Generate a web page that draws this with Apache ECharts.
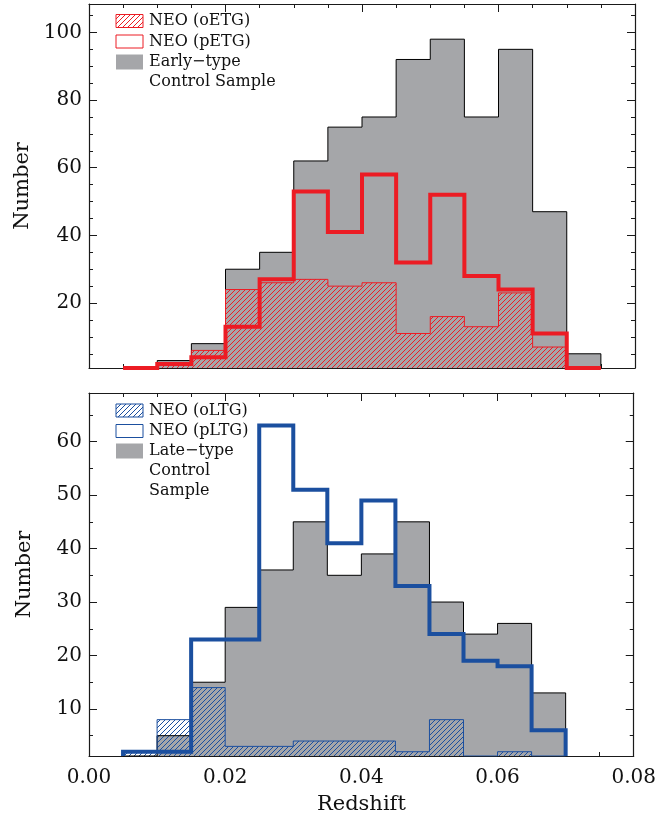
<!DOCTYPE html>
<html>
<head>
<meta charset="utf-8">
<script src="https://cdn.jsdelivr.net/npm/echarts@6/dist/echarts.min.js"></script>
<style>
  html, body { margin: 0; padding: 0; background: #ffffff; }
  #chart { width: 659px; height: 816px; }
</style>
</head>
<body>
<div id="chart"></div>
<script>
// ---- Histogram data: counts per redshift bin (bin width 0.005) ----
const BIN_WIDTH = 0.005;

// Early-type panel: left edges of the bins
const etgBinEdges = [0.005, 0.010, 0.015, 0.020, 0.025, 0.030, 0.035,
                     0.040, 0.045, 0.050, 0.055, 0.060, 0.065, 0.070];
const etgControl  = [0, 3, 8, 30, 35, 62, 72, 75, 92, 98, 75, 95, 47, 5];
const neoOETG     = [0, 2, 6, 24, 26, 27, 25, 26, 11, 16, 13, 23, 7, 0];
const neoPETG     = [0, 2, 4, 13, 27, 53, 41, 58, 32, 52, 28, 24, 11, 0];

// Late-type panel: left edges of the bins
const ltgBinEdges = [0.005, 0.010, 0.015, 0.020, 0.025, 0.030, 0.035,
                     0.040, 0.045, 0.050, 0.055, 0.060, 0.065];
const ltgControl  = [0, 5, 15, 29, 36, 45, 35, 39, 45, 30, 24, 26, 13];
const neoOLTG     = [2, 8, 14, 3, 3, 4, 4, 4, 2, 8, 0, 2, 0];
const neoPLTG     = [2, 2, 23, 23, 63, 51, 41, 49, 33, 24, 19, 18, 6];

// ---- Axis tick values ----
const xMajorStep = 0.02;
const topYMajor = [20, 40, 60, 80, 100];
const topYMinor = [5, 10, 15, 20, 25, 30, 35, 40, 45, 50, 55, 60, 65, 70, 75, 80, 85, 90, 95, 100, 105];
const botYMajor = [10, 20, 30, 40, 50, 60];
const botYMinor = [5, 10, 15, 20, 25, 30, 35, 40, 45, 50, 55, 60, 65];

const TOP_Y_RANGE = [0.8, 108.4];
const BOT_Y_RANGE = [1.2, 69.1];

// ---- Styling ----
const FONT = 'DejaVu Serif';
const FRAME = '#1a1a1a';
const GREY = '#a5a6a9';
const RED = '#ec1c24';
const BLUE = '#1b4f9f';

// Diagonal hatch tile used for the "o" samples
function hatch(color) {
  const s = 5;
  const c = document.createElement('canvas');
  c.width = s; c.height = s;
  const g = c.getContext('2d');
  g.strokeStyle = color;
  g.lineWidth = 1;
  g.beginPath();
  g.moveTo(-1, s + 1); g.lineTo(s + 1, -1);
  g.moveTo(-1, 1); g.lineTo(1, -1);
  g.moveTo(s - 1, s + 1); g.lineTo(s + 1, s - 1);
  g.stroke();
  return { image: c, repeat: 'repeat' };
}
const redHatch = hatch(RED);
const blueHatch = hatch(BLUE);

// Turn bin counts into histogram outline points (step: 'end'),
// holding empty bins on the panel floor so they stay visible.
function histPoints(edges, counts, floor) {
  const f = v => Math.max(v, floor);
  const n = counts.length;
  const right = edges[n - 1] + BIN_WIDTH;
  const pts = [[edges[0], f(0)]];
  for (let i = 0; i < n; i++) pts.push([edges[i], f(counts[i])]);
  pts.push([right, f(counts[n - 1])]);
  pts.push([right, f(0)]);
  return pts;
}

function xAxes(grid, showLabels) {
  const base = {
    type: 'value', gridIndex: grid, min: 0, max: 0.08, interval: xMajorStep,
    axisLine: { show: true, onZero: false, lineStyle: { color: FRAME, width: 1.2 } },
    axisTick: { show: true, inside: true, length: 8, lineStyle: { color: FRAME, width: 1 } },
    minorTick: { show: true, splitNumber: 4, length: 4, lineStyle: { color: FRAME, width: 1 } },
    splitLine: { show: false }, minorSplitLine: { show: false }
  };
  return [
    Object.assign({}, base, {
      position: 'bottom',
      axisLabel: showLabels
        ? { show: true, margin: 12, fontFamily: FONT, fontSize: 20, color: '#111',
            formatter: v => v.toFixed(2) }
        : { show: false },
      name: showLabels ? 'Redshift' : '',
      nameLocation: 'middle', nameGap: 38,
      nameTextStyle: { fontFamily: FONT, fontSize: 21, color: '#111' }
    }),
    Object.assign({}, base, { position: 'top', axisLabel: { show: false } })
  ];
}

function yAxes(grid, range, major, minor) {
  const base = {
    type: 'value', gridIndex: grid, min: range[0], max: range[1],
    splitLine: { show: false }
  };
  const line = { show: true, onZero: false, lineStyle: { color: FRAME, width: 1.2 } };
  const tick = (vals, len) => ({ show: true, inside: true, length: len, customValues: vals,
                                 lineStyle: { color: FRAME, width: 1 } });
  return [
    Object.assign({}, base, {
      position: 'left', axisLine: line, axisTick: tick(major, 8),
      axisLabel: { show: true, customValues: major, margin: 7, fontFamily: FONT, fontSize: 20, color: '#111' },
      name: 'Number', nameLocation: 'middle', nameRotate: 90, nameGap: 54,
      nameTextStyle: { fontFamily: FONT, fontSize: 21, color: '#111' }
    }),
    Object.assign({}, base, {
      position: 'left', axisLine: { show: false, onZero: false }, axisTick: tick(minor, 4),
      axisLabel: { show: false }
    }),
    Object.assign({}, base, {
      position: 'right', axisLine: line, axisTick: tick(major, 8), axisLabel: { show: false }
    }),
    Object.assign({}, base, {
      position: 'right', axisLine: { show: false, onZero: false }, axisTick: tick(minor, 4),
      axisLabel: { show: false }
    })
  ];
}

function histSeries(xi, yi, data, opts) {
  return Object.assign({
    type: 'line', xAxisIndex: xi, yAxisIndex: yi, data: data, step: 'end',
    symbol: 'none', showSymbol: false, silent: true, animation: false,
    emphasis: { disabled: true }
  }, opts);
}

const series = [
  // Early-type panel
  histSeries(0, 0, histPoints(etgBinEdges, etgControl, TOP_Y_RANGE[0]), {
    name: 'Early-type Control Sample',
    lineStyle: { color: '#000', width: 1 },
    areaStyle: { color: GREY, opacity: 1, origin: 'start' }
  }),
  histSeries(0, 0, histPoints(etgBinEdges, neoOETG, TOP_Y_RANGE[0]), {
    name: 'NEO (oETG)',
    lineStyle: { color: RED, width: 1 },
    areaStyle: { color: redHatch, opacity: 1, origin: 'start' }
  }),
  histSeries(0, 0, histPoints(etgBinEdges, neoPETG, TOP_Y_RANGE[0]), {
    name: 'NEO (pETG)', clip: false,
    lineStyle: { color: RED, width: 4, join: 'miter' }
  }),
  // Late-type panel
  histSeries(2, 4, histPoints(ltgBinEdges, ltgControl, BOT_Y_RANGE[0]), {
    name: 'Late-type Control Sample',
    lineStyle: { color: '#000', width: 1 },
    areaStyle: { color: GREY, opacity: 1, origin: 'start' }
  }),
  histSeries(2, 4, histPoints(ltgBinEdges, neoOLTG, BOT_Y_RANGE[0]), {
    name: 'NEO (oLTG)',
    lineStyle: { color: BLUE, width: 1 },
    areaStyle: { color: blueHatch, opacity: 1, origin: 'start' }
  }),
  histSeries(2, 4, histPoints(ltgBinEdges, neoPLTG, BOT_Y_RANGE[0]), {
    name: 'NEO (pLTG)', clip: false,
    lineStyle: { color: BLUE, width: 4, join: 'miter' }
  })
];

// Key boxes and captions in the upper-left of each panel
function key(rows, color, hatchFill) {
  const els = [];
  const boxX = 116, textX = 149, bw = 27, bh = 13;
  rows.forEach((r, i) => {
    if (r.box === 'hatch') {
      els.push({ type: 'rect', shape: { x: boxX, y: r.y - bh / 2, width: bw, height: bh },
                 style: { fill: hatchFill, stroke: color, lineWidth: 1 } });
    } else if (r.box === 'open') {
      els.push({ type: 'rect', shape: { x: boxX, y: r.y - bh / 2, width: bw, height: bh },
                 style: { fill: '#fff', stroke: color, lineWidth: 1 } });
    } else if (r.box === 'grey') {
      els.push({ type: 'rect', shape: { x: boxX, y: r.y - bh / 2 - 1, width: bw, height: bh + 2 },
                 style: { fill: GREY } });
    }
    els.push({ type: 'text', x: textX, y: r.y,
               style: { text: r.text, font: '16px "' + FONT + '"', fill: '#111',
                        textAlign: 'left', textVerticalAlign: 'middle' } });
  });
  return els;
}

const graphic = [].concat(
  key([
    { y: 21, box: 'hatch', text: 'NEO (oETG)' },
    { y: 41.5, box: 'open', text: 'NEO (pETG)' },
    { y: 62, box: 'grey', text: 'Early\u2212type' },
    { y: 82, box: null, text: 'Control Sample' }
  ], RED, redHatch),
  key([
    { y: 410.5, box: 'hatch', text: 'NEO (oLTG)' },
    { y: 431, box: 'open', text: 'NEO (pLTG)' },
    { y: 451, box: 'grey', text: 'Late\u2212type' },
    { y: 471, box: null, text: 'Control' },
    { y: 491, box: null, text: 'Sample' }
  ], BLUE, blueHatch)
);

const chart = echarts.init(document.getElementById('chart'), null, { renderer: 'canvas' });
chart.setOption({
  animation: false,
  backgroundColor: '#ffffff',
  grid: [
    { left: 89, top: 4, width: 546, height: 364 },
    { left: 89, top: 393, width: 546, height: 363 }
  ],
  xAxis: [].concat(xAxes(0, false), xAxes(1, true)),
  yAxis: [].concat(yAxes(0, TOP_Y_RANGE, topYMajor, topYMinor),
                   yAxes(1, BOT_Y_RANGE, botYMajor, botYMinor)),
  series: series,
  graphic: graphic
});
</script>
</body>
</html>
